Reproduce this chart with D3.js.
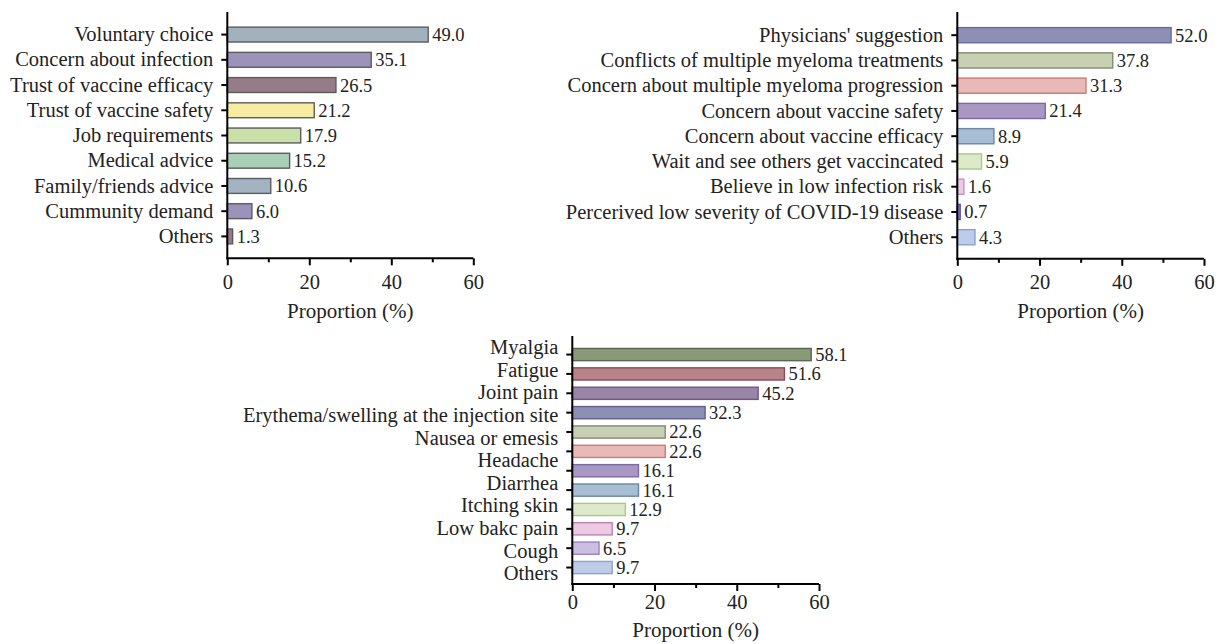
<!DOCTYPE html>
<html>
<head>
<meta charset="utf-8">
<script src="https://cdn.jsdelivr.net/npm/d3@7"></script>
<style>
  body { margin: 0; background: #fff; }
  svg { display: block; font-family: "Liberation Serif", "Times New Roman", serif; }
  .axis { font-family: "Liberation Serif", "Times New Roman", serif; }
  .axis path, .axis line { stroke: #000; }
  .axis text { fill: #222; }
</style>
</head>
<body>
<div id="chart"></div>
<script>
// DATA
const vaccinatedReasons = ["Voluntary choice", "Concern about infection", "Trust of vaccine efficacy",
  "Trust of vaccine safety", "Job requirements", "Medical advice", "Family/friends advice",
  "Cummunity demand", "Others"];
const vaccinatedPct = [49.0, 35.1, 26.5, 21.2, 17.9, 15.2, 10.6, 6.0, 1.3];

const hesitantReasons = ["Physicians' suggestion", "Conflicts of multiple myeloma treatments",
  "Concern about multiple myeloma progression", "Concern about vaccine safety",
  "Concern about vaccine efficacy", "Wait and see others get vaccincated",
  "Believe in low infection risk", "Percerived low severity of COVID-19 disease", "Others"];
const hesitantPct = [52.0, 37.8, 31.3, 21.4, 8.9, 5.9, 1.6, 0.7, 4.3];

// 11 labels printed beside 12 bars, as in the original figure
const adverseLabels = ["Myalgia", "Fatigue", "Joint pain", "Erythema/swelling at the injection site",
  "Nausea or emesis", "Headache", "Diarrhea", "Itching skin", "Low bakc pain", "Cough", "Others"];
const adversePct = [58.1, 51.6, 45.2, 32.3, 22.6, 22.6, 16.1, 16.1, 12.9, 9.7, 6.5, 9.7];

const xTicks = [0, 20, 40, 60];
const xMinorTicks = [10, 30, 50];
const xLabel = "Proportion (%)";

// COLOURS
const fill1 = ["#a3b1bd", "#9b93b9", "#967b88", "#f6eda2", "#c9e0a9", "#a9cfb9", "#a3b3c1", "#9b93b9", "#967b88"];
const stroke1 = ["#5c5c5c", "#5c5c5c", "#5c5c5c", "#5c5c5c", "#5c5c5c", "#5c5c5c", "#5c5c5c", "#5c5c5c", "#5c5c5c"];
const fill2 = ["#8e8fb4", "#c8d0b4", "#e9b9b8", "#a997c3", "#a7bed4", "#dceac9", "#eccae1", "#8f80c0", "#bdcce8"];
const stroke2 = ["#6b6b9b", "#818b70", "#c97b73", "#7f6a9d", "#6b86a1", "#a9c98b", "#c992c1", "#5b4ca0", "#8fa0d0"];
const fill3 = ["#8a9a78", "#b8838a", "#9a84a7", "#8e8fb4", "#c8d0b4", "#e9b9b8", "#a997c3", "#a7bed4", "#dceac9", "#eccae1", "#cbbee0", "#bdcce8"];
const stroke3 = ["#5b6650", "#8a4c58", "#6e5a80", "#5f6090", "#818b70", "#c97b73", "#7f6a9d", "#6b86a1", "#a9c98b", "#c080b8", "#9a80c0", "#8fa0d0"];

const W = 1221, H = 644;
const svg = d3.select("#chart").append("svg").attr("width", W).attr("height", H);

function drawPanel(p) {
    const g = svg.append("g");
    const idx = p.values.map((d, i) => i);

    const x = d3.scaleLinear().domain([0, 60]).range([p.left, p.right]);
    const y = d3.scaleBand().domain(idx).range([p.bandTop, p.bandBottom]).padding(p.pad);

    // BARS
    g.selectAll(".bar").data(p.values).enter().append("rect")
        .attr("class", "bar")
        .attr("x", x(0))
        .attr("y", (d, i) => y(i))
        .attr("width", d => x(d) - x(0))
        .attr("height", y.bandwidth())
        .attr("fill", (d, i) => p.fill[i])
        .attr("stroke", (d, i) => p.stroke[i])
        .attr("stroke-width", 1.4);

    // VALUE LABELS
    g.selectAll(".val").data(p.values).enter().append("text")
        .attr("class", "val")
        .attr("x", d => x(d) + 4)
        .attr("y", (d, i) => y(i) + y.bandwidth() / 2)
        .attr("dy", "0.35em")
        .attr("font-size", "18.5px")
        .attr("fill", "#222")
        .text(d => d.toFixed(1));

    // Y AXIS
    const yAxis = g.append("g").attr("class", "axis")
        .attr("transform", "translate(" + p.left + ",0)")
        .call(d3.axisLeft(y).tickSize(6).tickPadding(8)
            .tickFormat(p.labels ? (i => p.labels[i]) : () => ""));
    yAxis.select(".domain").remove();
    yAxis.selectAll(".tick line").attr("stroke-width", 2);
    yAxis.selectAll(".tick text").attr("font-size", "20.5px");
    g.append("line").attr("x1", p.left).attr("x2", p.left)
        .attr("y1", p.axisTop).attr("y2", p.xAxisY + 1)
        .attr("stroke", "#000").attr("stroke-width", 2);

    // separate labels (third panel)
    if (p.freeLabels) {
        const ly = d3.scalePoint().domain(p.freeLabels).range(p.freeRange);
        g.selectAll(".lab").data(p.freeLabels).enter().append("text")
            .attr("x", p.left - 14)
            .attr("y", d => ly(d))
            .attr("dy", "0.35em")
            .attr("text-anchor", "end")
            .attr("font-size", "20.5px")
            .attr("fill", "#222")
            .text(d => d);
    }

    // X AXIS
    const xAxis = g.append("g").attr("class", "axis")
        .attr("transform", "translate(0," + p.xAxisY + ")")
        .call(d3.axisBottom(x).tickValues(xTicks).tickSize(7).tickPadding(p.tickPad).tickFormat(d3.format("d")));
    xAxis.select(".domain").attr("stroke-width", 2).attr("d", "M" + (p.left - 1) + ",0H" + p.right);
    xAxis.selectAll(".tick line").attr("stroke-width", 2);
    xAxis.selectAll(".tick text").attr("font-size", "20.5px");

    const xMinor = g.append("g").attr("class", "axis")
        .attr("transform", "translate(0," + p.xAxisY + ")")
        .call(d3.axisBottom(x).tickValues(xMinorTicks).tickSize(4).tickFormat(""));
    xMinor.select(".domain").remove();
    xMinor.selectAll(".tick line").attr("stroke-width", 2);

    g.append("text")
        .attr("x", (p.left + p.right) / 2)
        .attr("y", p.titleY)
        .attr("text-anchor", "middle")
        .attr("font-size", "21px")
        .attr("fill", "#222")
        .text(xLabel);
}

drawPanel({
    values: vaccinatedPct, labels: vaccinatedReasons, fill: fill1, stroke: stroke1,
    left: 227.3, right: 473.3, axisTop: 12, bandTop: 16.8, bandBottom: 254.2, pad: 0.41,
    xAxisY: 258.3, tickPad: 9, titleY: 318
});

drawPanel({
    values: hesitantPct, labels: hesitantReasons, fill: fill2, stroke: stroke2,
    left: 957.3, right: 1204, axisTop: 12, bandTop: 17.5, bandBottom: 254.9, pad: 0.4,
    xAxisY: 258.8, tickPad: 9, titleY: 318
});

drawPanel({
    values: adversePct, labels: null, fill: fill3, stroke: stroke3,
    freeLabels: adverseLabels, freeRange: [346.7, 573.3],
    left: 572.3, right: 819, axisTop: 336, bandTop: 341.3, bandBottom: 580.8, pad: 0.37,
    xAxisY: 584, tickPad: 3, titleY: 637
});
</script>
</body>
</html>
